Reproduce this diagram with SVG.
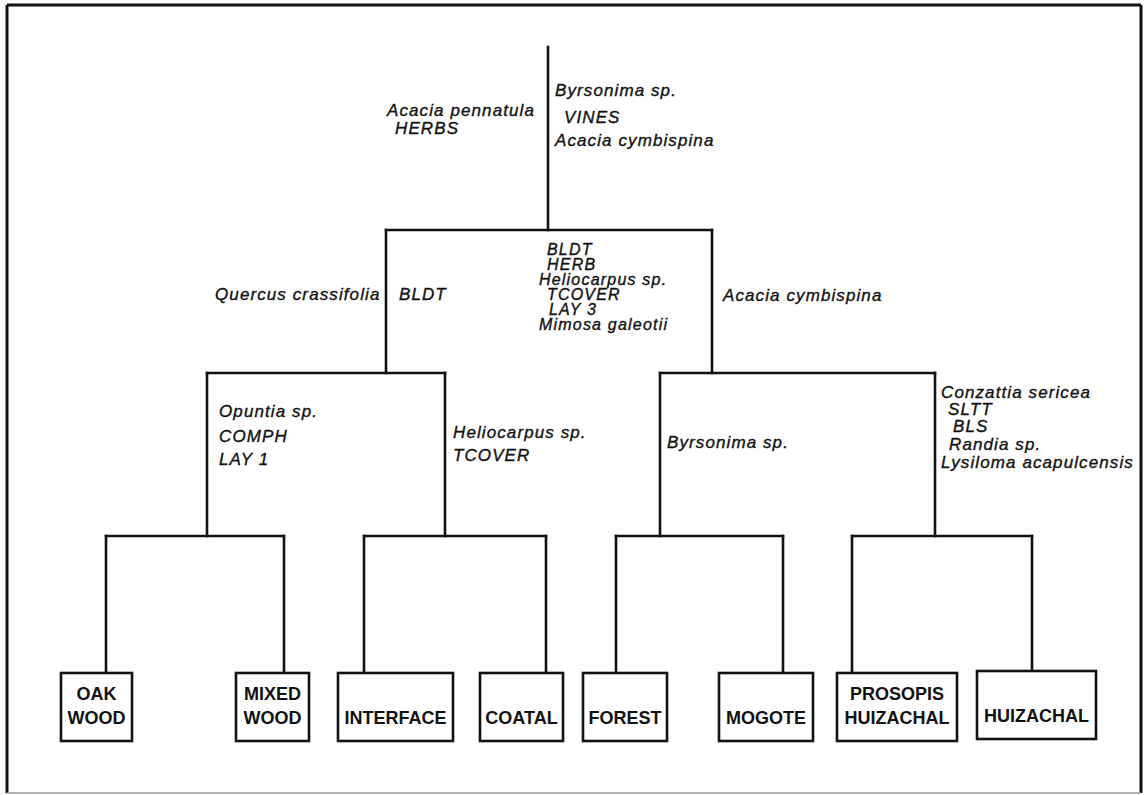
<svg xmlns="http://www.w3.org/2000/svg" width="1145" height="795" viewBox="0 0 1145 795">
<style>
.bg{fill:#fff}
.frame{stroke:#111;stroke-width:3;fill:none}
.frameb{stroke:#999;stroke-width:1.5;fill:none}
.ln{stroke:#111;stroke-width:2.6;fill:none;stroke-linecap:square}
.box{fill:#fff;stroke:#111;stroke-width:2.6}
.lab{font-family:"Liberation Sans",Arial,sans-serif;font-style:italic;font-size:17px;letter-spacing:1.1px;fill:#111;stroke:#111;stroke-width:0.35}
.sm{font-size:16px;letter-spacing:1.2px}
.leaf{font-family:"Liberation Sans",Arial,sans-serif;font-weight:bold;font-size:18px;fill:#111;text-anchor:middle}
</style>
<rect class="bg" x="0" y="0" width="1145" height="795"/>
<g id="frame">
<line class="frame" x1="7" y1="5" x2="1141" y2="5"/>
<line class="frame" x1="7" y1="5" x2="7" y2="793"/>
<line class="frame" x1="1141" y1="5" x2="1141" y2="793"/>
<line class="frameb" x1="7" y1="793" x2="1141" y2="793"/>
</g>
<g id="connectors">
<line class="ln" x1="548" y1="47" x2="548" y2="230"/>
<line class="ln" x1="386" y1="230" x2="712" y2="230"/>
<line class="ln" x1="386" y1="230" x2="386" y2="373"/>
<line class="ln" x1="712" y1="230" x2="712" y2="373"/>
<line class="ln" x1="207" y1="373" x2="445" y2="373"/>
<line class="ln" x1="207" y1="373" x2="207" y2="536"/>
<line class="ln" x1="445" y1="373" x2="445" y2="536"/>
<line class="ln" x1="660" y1="373" x2="935" y2="373"/>
<line class="ln" x1="660" y1="373" x2="660" y2="536"/>
<line class="ln" x1="935" y1="373" x2="935" y2="536"/>
<line class="ln" x1="106" y1="536" x2="284" y2="536"/>
<line class="ln" x1="106" y1="536" x2="106" y2="673"/>
<line class="ln" x1="284" y1="536" x2="284" y2="673"/>
<line class="ln" x1="364" y1="536" x2="546" y2="536"/>
<line class="ln" x1="364" y1="536" x2="364" y2="673"/>
<line class="ln" x1="546" y1="536" x2="546" y2="673"/>
<line class="ln" x1="616" y1="536" x2="783" y2="536"/>
<line class="ln" x1="616" y1="536" x2="616" y2="673"/>
<line class="ln" x1="783" y1="536" x2="783" y2="673"/>
<line class="ln" x1="852" y1="536" x2="1032" y2="536"/>
<line class="ln" x1="852" y1="536" x2="852" y2="673"/>
<line class="ln" x1="1032" y1="536" x2="1032" y2="671"/>
</g>
<g id="split-root">
<text class="lab" x="387" y="116">Acacia pennatula</text>
<text class="lab" x="395" y="134">HERBS</text>
<text class="lab" x="555" y="96">Byrsonima sp.</text>
<text class="lab" x="564" y="123">VINES</text>
<text class="lab" x="555" y="146">Acacia cymbispina</text>
</g>
<g id="split-level1">
<text class="lab" x="215" y="300">Quercus crassifolia</text>
<text class="lab" x="399" y="300">BLDT</text>
<text class="lab sm" x="547" y="255">BLDT</text>
<text class="lab sm" x="547" y="270">HERB</text>
<text class="lab sm" x="539" y="285">Heliocarpus sp.</text>
<text class="lab sm" x="547" y="300">TCOVER</text>
<text class="lab sm" x="549" y="315">LAY 3</text>
<text class="lab sm" x="539" y="330">Mimosa galeotii</text>
<text class="lab" x="723" y="301">Acacia cymbispina</text>
</g>
<g id="split-left">
<text class="lab" x="219" y="417">Opuntia sp.</text>
<text class="lab" x="219" y="442">COMPH</text>
<text class="lab" x="219" y="465">LAY 1</text>
<text class="lab" x="453" y="438">Heliocarpus sp.</text>
<text class="lab" x="453" y="461">TCOVER</text>
</g>
<g id="split-right">
<text class="lab" x="667" y="448">Byrsonima sp.</text>
<text class="lab" x="941" y="398">Conzattia sericea</text>
<text class="lab" x="948" y="415">SLTT</text>
<text class="lab" x="953" y="432">BLS</text>
<text class="lab" x="949" y="450">Randia sp.</text>
<text class="lab" x="941" y="468">Lysiloma acapulcensis</text>
</g>
<g id="oak-wood">
<rect class="box" x="61" y="673" width="71" height="68"/>
<text class="leaf" x="96.5" y="700">OAK</text>
<text class="leaf" x="96.5" y="724">WOOD</text>
</g>
<g id="mixed-wood">
<rect class="box" x="236" y="673" width="73" height="68"/>
<text class="leaf" x="272.5" y="700">MIXED</text>
<text class="leaf" x="272.5" y="724">WOOD</text>
</g>
<g id="interface">
<rect class="box" x="338" y="673" width="115" height="68"/>
<text class="leaf" x="395.5" y="724">INTERFACE</text>
</g>
<g id="coatal">
<rect class="box" x="480" y="673" width="83" height="68"/>
<text class="leaf" x="521.5" y="724">COATAL</text>
</g>
<g id="forest">
<rect class="box" x="583" y="673" width="84" height="68"/>
<text class="leaf" x="625" y="724">FOREST</text>
</g>
<g id="mogote">
<rect class="box" x="719" y="673" width="94" height="68"/>
<text class="leaf" x="766" y="724">MOGOTE</text>
</g>
<g id="prosopis-huizachal">
<rect class="box" x="837" y="673" width="120" height="68"/>
<text class="leaf" x="897" y="700">PROSOPIS</text>
<text class="leaf" x="897" y="724">HUIZACHAL</text>
</g>
<g id="huizachal">
<rect class="box" x="977" y="671" width="119" height="68"/>
<text class="leaf" x="1036.5" y="722">HUIZACHAL</text>
</g>
</svg>
